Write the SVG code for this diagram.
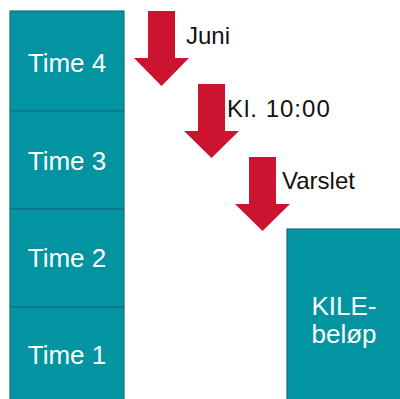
<svg xmlns="http://www.w3.org/2000/svg" width="400" height="399" viewBox="0 0 400 399">
<defs>
<style>
.box{fill:#0294A1;stroke:#17707E;stroke-width:1.2}
.bt{font-family:"Liberation Sans",Arial,sans-serif;font-size:26px;fill:#ffffff;text-anchor:middle}
.arrow{fill:#CC1330}
.lbl{font-family:"Liberation Sans",Arial,sans-serif;font-size:24px;fill:#111111}
</style>
</defs>
<rect width="400" height="399" fill="#ffffff"/>
<g id="time4"><rect class="box" x="10" y="11" width="114" height="100"/><text class="bt" x="67" y="72">Time 4</text></g>
<g id="time3"><rect class="box" x="10" y="111" width="114" height="98"/><text class="bt" x="67" y="170">Time 3</text></g>
<g id="time2"><rect class="box" x="10" y="209" width="114" height="98"/><text class="bt" x="67" y="267">Time 2</text></g>
<g id="time1"><rect class="box" x="10" y="307" width="114" height="98"/><text class="bt" x="67" y="364">Time 1</text></g>
<g id="kile"><rect class="box" x="287" y="229" width="120" height="180"/><text class="bt" x="344" y="315">KILE-</text><text class="bt" x="344" y="343">beløp</text></g>
<g id="connectors">
<polygon class="arrow" points="148,11 175,11 175,58 189,58 161.5,86 134,58 148,58"/>
<polygon class="arrow" points="198,84 225,84 225,131 239,131 211.5,158 184,131 198,131"/>
<polygon class="arrow" points="249,157 276,157 276,204 290,204 262.5,231 235,204 249,204"/>
</g>
<g id="labels">
<text class="lbl" x="186" y="44">Juni</text>
<text class="lbl" x="227" y="117" letter-spacing="1">Kl. 10:00</text>
<text class="lbl" x="282" y="189">Varslet</text>
</g>
</svg>
